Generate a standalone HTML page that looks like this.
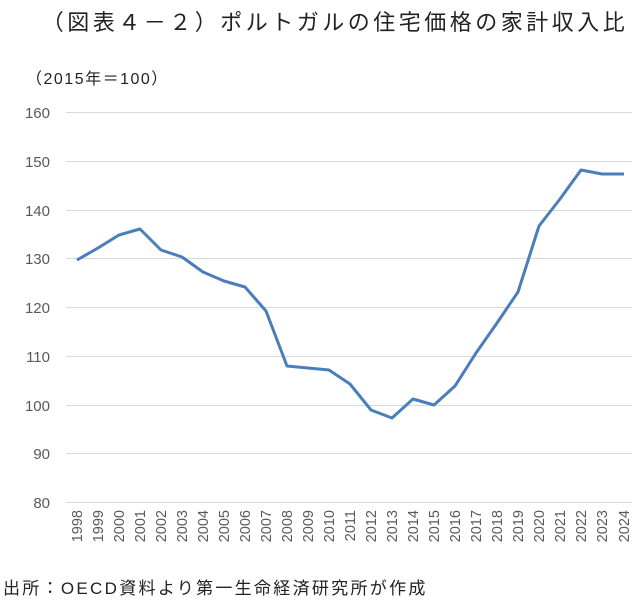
<!DOCTYPE html>
<html><head><meta charset="utf-8"><style>
body{margin:0;background:#fff;}
svg{display:block;font-family:"Liberation Sans","Noto Sans CJK JP",sans-serif;}
</style></head><body>
<svg width="638" height="600" viewBox="0 0 638 600">
<text x="335" y="30" text-anchor="middle" font-size="22" letter-spacing="3.5" fill="#222">（図表４－２）ポルトガルの住宅価格の家計収入比</text>
<text x="26" y="84" font-size="16" letter-spacing="1.5" fill="#222">（2015年＝100）</text>
<g stroke="#d9d9d9" stroke-width="1">
<line x1="66" x2="632" y1="112.5" y2="112.5"/>
<line x1="66" x2="632" y1="161.5" y2="161.5"/>
<line x1="66" x2="632" y1="210.5" y2="210.5"/>
<line x1="66" x2="632" y1="258.5" y2="258.5"/>
<line x1="66" x2="632" y1="307.5" y2="307.5"/>
<line x1="66" x2="632" y1="356.5" y2="356.5"/>
<line x1="66" x2="632" y1="405.5" y2="405.5"/>
<line x1="66" x2="632" y1="453.5" y2="453.5"/>
<line x1="66" x2="632" y1="502.5" y2="502.5"/>
</g>
<g font-size="15" fill="#595959" text-anchor="end">
<text x="50" y="118">160</text><text x="50" y="167">150</text><text x="50" y="216">140</text>
<text x="50" y="264">130</text><text x="50" y="313">120</text><text x="50" y="362">110</text>
<text x="50" y="411">100</text><text x="50" y="459">90</text><text x="50" y="508">80</text>
</g>
<polyline fill="none" stroke="#4a7ebb" stroke-width="3" stroke-linejoin="round" points="77,260 98,248 119,235 140,229 161,250 182,257 203,272 224,281 245,287 266,311 287,366 308,368 329,370 350,384 371,410 392,418 413,399 434,405 455,386 476,353 497,323 518,292 539,226 560,199 581,170 602,174 624,174"/>
<g font-size="14.5" fill="#595959" text-anchor="end">
<text transform="translate(82,510) rotate(-90)">1998</text>
<text transform="translate(103,510) rotate(-90)">1999</text>
<text transform="translate(124,510) rotate(-90)">2000</text>
<text transform="translate(145,510) rotate(-90)">2001</text>
<text transform="translate(166,510) rotate(-90)">2002</text>
<text transform="translate(187,510) rotate(-90)">2003</text>
<text transform="translate(208,510) rotate(-90)">2004</text>
<text transform="translate(229,510) rotate(-90)">2005</text>
<text transform="translate(250,510) rotate(-90)">2006</text>
<text transform="translate(271,510) rotate(-90)">2007</text>
<text transform="translate(292,510) rotate(-90)">2008</text>
<text transform="translate(313,510) rotate(-90)">2009</text>
<text transform="translate(334,510) rotate(-90)">2010</text>
<text transform="translate(355,510) rotate(-90)">2011</text>
<text transform="translate(376,510) rotate(-90)">2012</text>
<text transform="translate(397,510) rotate(-90)">2013</text>
<text transform="translate(418,510) rotate(-90)">2014</text>
<text transform="translate(439,510) rotate(-90)">2015</text>
<text transform="translate(460,510) rotate(-90)">2016</text>
<text transform="translate(481,510) rotate(-90)">2017</text>
<text transform="translate(502,510) rotate(-90)">2018</text>
<text transform="translate(523,510) rotate(-90)">2019</text>
<text transform="translate(544,510) rotate(-90)">2020</text>
<text transform="translate(565,510) rotate(-90)">2021</text>
<text transform="translate(586,510) rotate(-90)">2022</text>
<text transform="translate(607,510) rotate(-90)">2023</text>
<text transform="translate(629,510) rotate(-90)">2024</text>
</g>
<text x="3" y="594" font-size="17" letter-spacing="2.3" fill="#222">出所：OECD資料より第一生命経済研究所が作成</text>
</svg>
</body></html>
